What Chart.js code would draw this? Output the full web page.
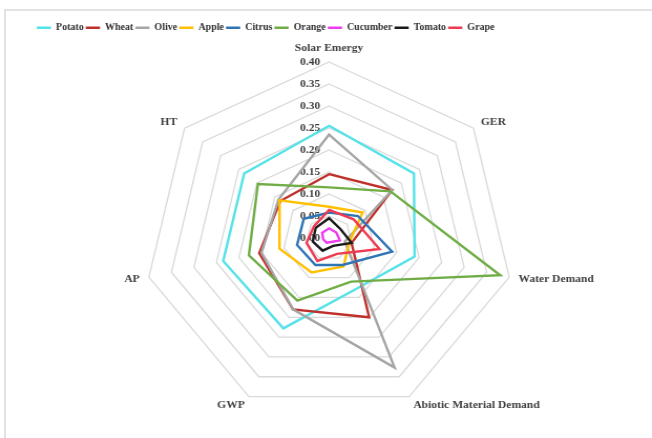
<!DOCTYPE html>
<html>
<head>
<meta charset="utf-8">
<script src="https://cdn.jsdelivr.net/npm/chart.js@4"></script>
<style>
  html, body { margin: 0; padding: 0; background: #ffffff; }
  body { width: 652px; height: 438px; position: relative; overflow: hidden; }
  #frame { position: absolute; left: 4px; top: 9px; width: 700px; height: 460px;
           border-left: 2px solid #e2e2e2; border-top: 2px solid #e2e2e2; }
  #wrap { position: absolute; left: 0; top: 0; width: 621px; height: 438px;
          transform: scaleX(1.0499); transform-origin: 0 0; }
</style>
</head>
<body>
<div id="frame"></div>
<div id="wrap"><canvas id="c" width="621" height="438"></canvas></div>
<script>
// ---- data ----
const categories = ['Solar Emergy', 'GER', 'Water Demand', 'Abiotic Material Demand', 'GWP', 'AP', 'HT'];
const seriesNames = ['Potato', 'Wheat', 'Olive', 'Apple', 'Citrus', 'Orange', 'Cucumber', 'Tomato', 'Grape'];
const potato   = [0.255, 0.235, 0.190, 0.130, 0.228, 0.235, 0.235];
const wheat    = [0.145, 0.175, 0.050, 0.200, 0.180, 0.155, 0.135];
const olive    = [0.235, 0.175, 0.035, 0.327, 0.180, 0.150, 0.140];
const apple    = [0.071, 0.093, 0.045, 0.072, 0.087, 0.110, 0.137];
const citrus   = [0.058, 0.080, 0.140, 0.068, 0.068, 0.071, 0.070];
const orange   = [0.115, 0.170, 0.380, 0.110, 0.158, 0.178, 0.197];
const cucumber = [0.022, 0.020, 0.024, 0.010, 0.012, 0.013, 0.019];
const tomato   = [0.045, 0.032, 0.050, 0.020, 0.032, 0.036, 0.037];
const grape    = [0.064, 0.068, 0.112, 0.040, 0.058, 0.050, 0.042];
const tickValues = [0, 0.05, 0.10, 0.15, 0.20, 0.25, 0.30, 0.35, 0.40];
const tickLabels = ['0.00', '0.05', '0.10', '0.15', '0.20', '0.25', '0.30', '0.35', '0.40'];

const seriesValues = [potato, wheat, olive, apple, citrus, orange, cucumber, tomato, grape];
const colors = ['#55E2E8', '#C0302A', '#A5A5A5', '#FFC000', '#2E75B6', '#70AD47', '#F03CF0', '#1A1A1A', '#EE3A52'];

const CX = 313.4, CY = 238, R = 176;
const LABEL_FONT = 'bold 11px "Liberation Serif", "Times New Roman", serif';
const LABEL_COLOR = '#404040';

const labelPlugin = {
  id: 'excelLabels',
  beforeDatasetsDraw(chart) {
    const s = chart.scales.r;
    const ctx = chart.ctx;
    ctx.save();
    ctx.font = LABEL_FONT;
    ctx.fillStyle = LABEL_COLOR;
    // tick labels
    ctx.textAlign = 'right';
    ctx.textBaseline = 'middle';
    tickValues.forEach((v, i) => {
      const d = s.getDistanceFromCenterForValue(v);
      ctx.fillText(tickLabels[i], s.xCenter - 8.5, s.yCenter - d);
    });
    // category labels
    categories.forEach((lab, i) => {
      const p = s.getPointPosition(i, s.drawingArea + 9);
      const dx = p.x - s.xCenter, dy = p.y - s.yCenter;
      if (Math.abs(dx) < 1) { ctx.textAlign = 'center'; }
      else if (dx > 0) { ctx.textAlign = 'left'; }
      else { ctx.textAlign = 'right'; }
      if (Math.abs(dx) < 1 && dy < 0) {
        ctx.textBaseline = 'bottom';
        ctx.fillText(lab, p.x, p.y + 1);
      } else {
        ctx.textBaseline = 'middle';
        ctx.fillText(lab, p.x, p.y);
      }
    });
    ctx.restore();
  }
};

new Chart(document.getElementById('c'), {
  type: 'radar',
  data: {
    labels: categories,
    datasets: seriesNames.map((name, i) => ({
      label: name,
      data: seriesValues[i],
      borderColor: colors[i],
      backgroundColor: colors[i],
      borderWidth: 2.4,
      pointRadius: 0,
      pointHoverRadius: 0,
      fill: false,
      tension: 0,
      clip: false,
      order: -i
    }))
  },
  options: {
    responsive: false,
    animation: false,
    devicePixelRatio: 1,
    layout: { padding: { top: 21, left: 0, right: 115, bottom: 0 } },
    plugins: {
      tooltip: { enabled: false },
      legend: {
        position: 'top',
        labels: {
          usePointStyle: true,
          pointStyle: 'line',
          pointStyleWidth: 13.5,
          padding: 2,
          color: '#303030',
          font: { family: '"Liberation Serif", "Times New Roman", serif', size: 9.5, weight: 'bold' },
          sort: (a, b) => a.datasetIndex - b.datasetIndex
        }
      }
    },
    scales: {
      r: {
        min: 0,
        max: 0.4,
        ticks: { stepSize: 0.05, display: false },
        grid: { color: '#d9d9d9', lineWidth: 1.3, circular: false },
        angleLines: { display: false },
        pointLabels: { display: false },
        afterFit: (s) => { s.xCenter = CX; s.yCenter = CY; s.drawingArea = R; }
      }
    }
  },
  plugins: [labelPlugin]
});
</script>
</body>
</html>
